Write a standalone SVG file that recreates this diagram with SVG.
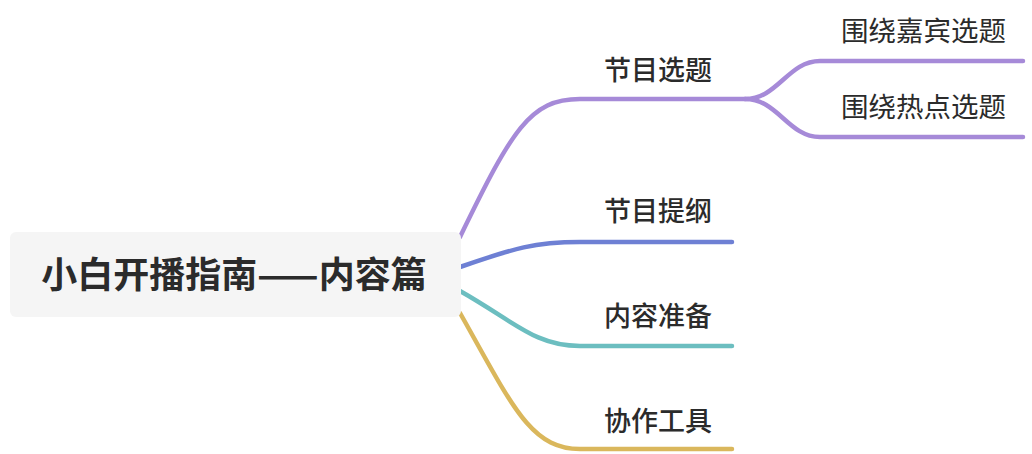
<svg xmlns="http://www.w3.org/2000/svg" width="1032" height="454" viewBox="0 0 1032 454">
<style>
.lbl{font-family:"Noto Sans CJK SC","Noto Sans",sans-serif;fill:#2b2b2b;}
.b1{font-size:27px;font-weight:500;}
.b2{font-size:27.5px;font-weight:400;}
.root{font-size:36px;font-weight:700;}
.ln{fill:none;stroke-width:4.5;stroke-linecap:round;}
</style>
<rect width="1032" height="454" fill="#ffffff"/>
<g id="connectors">
<path class="ln" stroke="#a68ad8" d="M460,237 C512,130 530,99 580,99 H745"/>
<path class="ln" stroke="#a68ad8" d="M745,99 C778,99 788,61 820,61 H1023"/>
<path class="ln" stroke="#a68ad8" d="M745,99 C778,99 788,137 820,137 H1023"/>
<path class="ln" stroke="#6e80d4" d="M460,267 C515,248 535,242 580,242 H732"/>
<path class="ln" stroke="#6cbec0" d="M460,291 C515,322 535,346 580,346 H732"/>
<path class="ln" stroke="#dab75c" d="M460,313 C512,405 530,449 580,449 H732"/>
</g>
<g id="root">
<rect x="10" y="232" width="451" height="85" rx="6" fill="#f5f5f5"/>
<text class="lbl root" x="234" y="288" text-anchor="middle">小白开播指南——内容篇</text>
</g>
<g id="n1"><text class="lbl b1" x="604" y="80">节目选题</text></g>
<g id="n2"><text class="lbl b1" x="604" y="221">节目提纲</text></g>
<g id="n3"><text class="lbl b1" x="604" y="326">内容准备</text></g>
<g id="n4"><text class="lbl b1" x="604" y="431">协作工具</text></g>
<g id="n5"><text class="lbl b2" x="841" y="41">围绕嘉宾选题</text></g>
<g id="n6"><text class="lbl b2" x="841" y="117">围绕热点选题</text></g>
</svg>
